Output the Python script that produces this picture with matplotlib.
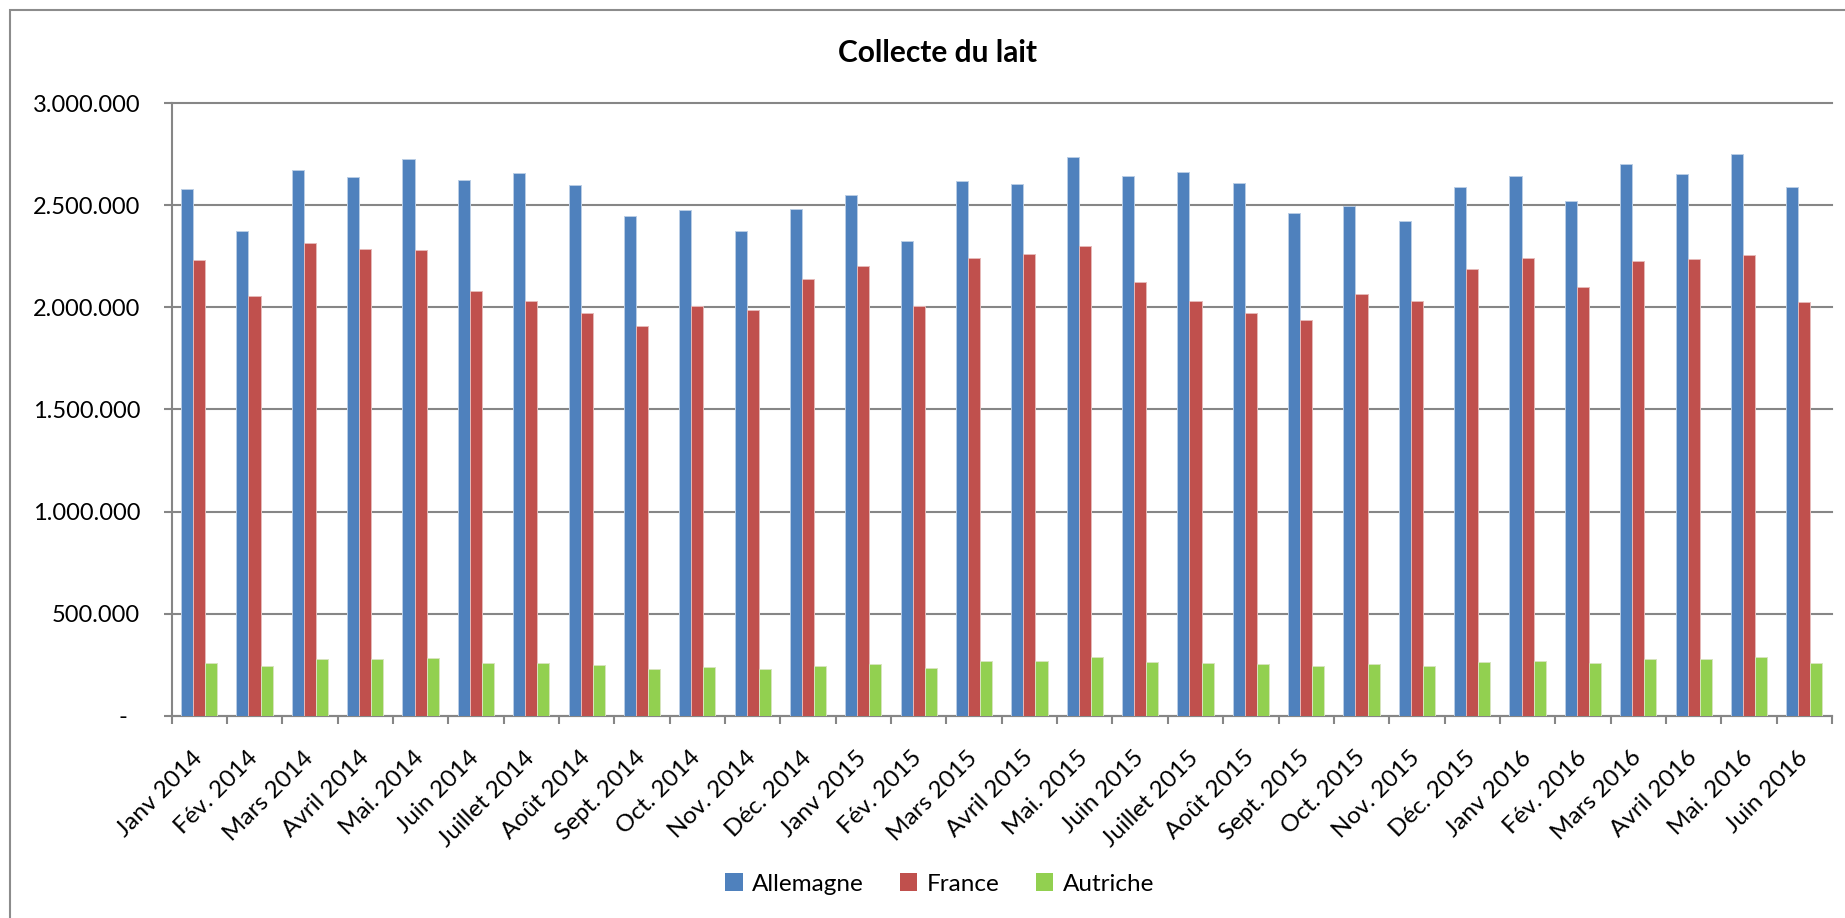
import numpy as np
import matplotlib
matplotlib.use("Agg")
import matplotlib.pyplot as plt
from matplotlib.patches import Rectangle

months = ["Janv 2014", "Fév. 2014", "Mars 2014", "Avril 2014", "Mai. 2014", "Juin 2014",
          "Juillet 2014", "Août 2014", "Sept. 2014", "Oct. 2014", "Nov. 2014", "Déc. 2014",
          "Janv 2015", "Fév. 2015", "Mars 2015", "Avril 2015", "Mai. 2015", "Juin 2015",
          "Juillet 2015", "Août 2015", "Sept. 2015", "Oct. 2015", "Nov. 2015", "Déc. 2015",
          "Janv 2016", "Fév. 2016", "Mars 2016", "Avril 2016", "Mai. 2016", "Juin 2016"]

allemagne = [2581000, 2377000, 2674000, 2640000, 2729000, 2623000, 2657000, 2600000, 2449000,
             2476000, 2374000, 2483000, 2550000, 2328000, 2620000, 2607000, 2739000, 2643000,
             2666000, 2612000, 2465000, 2498000, 2424000, 2592000, 2643000, 2520000, 2701000,
             2653000, 2750000, 2592000]
france = [2232000, 2055000, 2315000, 2285000, 2284000, 2082000, 2033000, 1972000, 1910000,
          2007000, 1990000, 2139000, 2202000, 2007000, 2243000, 2263000, 2302000, 2126000,
          2033000, 1972000, 1940000, 2067000, 2034000, 2191000, 2241000, 2101000, 2228000,
          2237000, 2258000, 2029000]
autriche = [259000, 243000, 275000, 275000, 284000, 259000, 256000, 246000, 230000,
            238000, 228000, 243000, 252000, 233000, 266000, 269000, 285000, 262000,
            259000, 252000, 241000, 251000, 244000, 262000, 267000, 259000, 279000,
            277000, 285000, 257000]

series_names = ["Allemagne", "France", "Autriche"]
colors = ["#4F81BD", "#C0504D", "#92D050"]
edge_colors = ["#B9CDE5", "#E6B9B8", "#D7E4BD"]
yticks = [0, 500000, 1000000, 1500000, 2000000, 2500000, 3000000]
ytick_labels = ["-  ", "500.000", "1.000.000", "1.500.000", "2.000.000", "2.500.000", "3.000.000"]
title = "Collecte du lait"

FONT = "Lato"
plt.rcParams["font.family"] = [FONT, "DejaVu Sans"]

W, H = 1845, 918
fig = plt.figure(figsize=(W / 100, H / 100), dpi=100)

# outer chart border (left & top visible)
fig.patches.append(Rectangle((10 / W, -0.05), 1.2, 1 - 10 / H + 0.05, transform=fig.transFigure,
                             fill=False, edgecolor="#8C8C8C", linewidth=1.5))

left, right, top, bottom = 171.5, 1832, 103.5, 715.5
ax = fig.add_axes([left / W, 1 - bottom / H, (right - left) / W, (bottom - top) / H])

x = np.arange(len(months))
w = 0.218
for i, (vals, c, ec) in enumerate(zip([allemagne, france, autriche], colors, edge_colors)):
    ax.bar(x + (i - 1) * w, vals, width=w, color=c, edgecolor=ec, linewidth=0.7,
           label=series_names[i], zorder=3)

ax.set_xlim(-0.5, len(months) - 0.5)
ax.set_ylim(0, 3000000)

grid_c = "#868686"
ax.set_yticks(yticks)
ax.set_yticklabels(ytick_labels, fontsize=17)
ax.yaxis.grid(True, color=grid_c, linewidth=1.5, zorder=0)
ax.set_axisbelow(True)
ax.tick_params(axis="y", length=5.5, width=1.5, color=grid_c, pad=17)
for gl in ax.get_ygridlines():
    gl.set_clip_on(False)

ax.set_xticks(x)
ax.set_xticklabels(months, fontsize=17.5, rotation=45, ha="right", va="center",
                   rotation_mode="anchor")
ax.tick_params(axis="x", which="major", length=0, pad=28)
ax.set_xticks(np.arange(len(months) + 1) - 0.5, minor=True)
ax.tick_params(axis="x", which="minor", length=6, width=1.5, color=grid_c)

for s in ["top", "right"]:
    ax.spines[s].set_visible(False)
for s in ["left", "bottom"]:
    ax.spines[s].set_color(grid_c)
    ax.spines[s].set_linewidth(1.5)

fig.text(938 / W, 1 - 53 / H, title, ha="center", va="center", fontsize=21.5, fontweight="bold")

leg = fig.legend(loc="center", bbox_to_anchor=(940 / W, 1 - 884 / H), ncol=3, frameon=False,
                 fontsize=17.5, handlelength=0.7, handleheight=0.7, handletextpad=0.4,
                 columnspacing=1.5)
for h in leg.legend_handles:
    h.set_edgecolor("none")

fig.savefig("out.png", dpi=100)
